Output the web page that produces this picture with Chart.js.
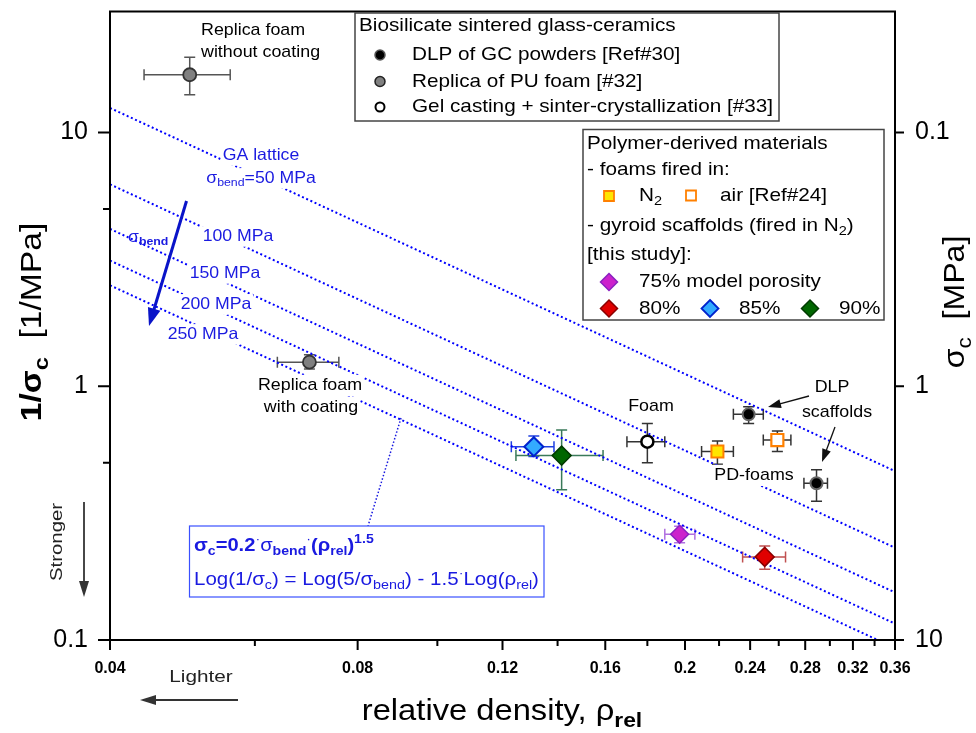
<!DOCTYPE html>
<html>
<head>
<meta charset="utf-8">
<script src="https://cdn.jsdelivr.net/npm/chart.js@4.4.0/dist/chart.umd.min.js"></script>
<style>
  body { margin: 0; background: #fff; }
  #wrap { width: 976px; height: 733px; }
</style>
</head>
<body>
<div id="wrap"><canvas id="chart" width="976" height="733"></canvas></div>
<script>
// x: relative density, y: 1/sigma_c [1/MPa]  (right axis shows sigma_c)
const xMajorTicks = [0.04, 0.08, 0.12, 0.16, 0.2, 0.24, 0.28, 0.32, 0.36];
const xMinorTicks = [0.06, 0.1, 0.14, 0.18, 0.22, 0.26, 0.3, 0.34];
const yMajorTicks = [0.1, 1, 10];
const yMinorTicks = [0.5, 5];
const sigmaTickLabels = ['10', '1', '0.1'];

// Biosilicate sintered glass-ceramics
const dlpRho = [0.239, 0.289];
const dlpInv = [0.775, 0.415];
const dlpRhoErr = [[0.229, 0.249], [0.279, 0.298]];
const dlpInvErr = [[0.714, 0.83], [0.352, 0.469]];

const replicaRho = [0.050, 0.0699];
const replicaInv = [16.9, 1.245];
const replicaRhoErr = [[0.044, 0.056], [0.0639, 0.0759]];
const replicaInvErr = [[14.1, 19.8], [1.17, 1.33]];

const gelRho = [0.18];
const gelInv = [0.605];
const gelRhoErr = [[0.170, 0.189]];
const gelInvErr = [[0.50, 0.714]];

// Polymer-derived foams
const pdN2Rho = [0.219];
const pdN2Inv = [0.553];
const pdN2RhoErr = [[0.2095, 0.229]];
const pdN2InvErr = [[0.493, 0.609]];

const pdAirRho = [0.259];
const pdAirInv = [0.614];
const pdAirRhoErr = [[0.249, 0.269]];
const pdAirInvErr = [[0.553, 0.667]];

// gyroid scaffolds [this study]
const g75Rho = [0.197], g75Inv = [0.261], g75RhoErr = [[0.189, 0.2056]], g75InvErr = [[0.2417, 0.281]];
const g80Rho = [0.25],  g80Inv = [0.2126], g80RhoErr = [[0.235, 0.265]], g80InvErr = [[0.19, 0.2347]];
const g85Rho = [0.131], g85Inv = [0.578], g85RhoErr = [[0.123, 0.1386]], g85InvErr = [[0.529, 0.637]];
const g90Rho = [0.1416], g90Inv = [0.533], g90RhoErr = [[0.1246, 0.159]], g90InvErr = [[0.391, 0.673]];

// GA lattice lines, sigma_bend in MPa
const sigmaBend = [50, 100, 150, 200, 250];
const lineRho = [0.04, 0.36];
const lineInvStart = [12.5, 6.25, 4.17, 3.13, 2.5];
const lineInvEnd = [0.463, 0.231, 0.154, 0.116, 0.093];

const FONT = 'Arial, "Liberation Sans", sans-serif';
const BLUE = '#1a1ae0';
Chart.defaults.font.family = FONT;
Chart.defaults.color = '#000';

function pts(xs, ys, xe, ye) {
  return xs.map((x, i) => ({ x, y: ys[i], xMin: xe[i][0], xMax: xe[i][1], yMin: ye[i][0], yMax: ye[i][1] }));
}

// text with sub/superscripts; sx stretches it horizontally like the original figure
function richText(ctx, parts, x, y, size, opts) {
  const o = Object.assign({ align: 'left', color: '#000', bold: false, bg: null, sx: 1 }, opts);
  const seg = parts.map(([t, s = '']) => {
    const small = s.includes('_') || s.includes('^');
    const fs = small ? size * 0.7 : size;
    const font = (s.includes('b') || o.bold ? 'bold ' : '') + fs + 'px ' + FONT;
    ctx.font = font;
    return { t, font, w: ctx.measureText(t).width, dy: s.includes('_') ? size * 0.3 : s.includes('^') ? -size * 0.38 : 0 };
  });
  const total = seg.reduce((a, s) => a + s.w, 0) * o.sx;
  const cx = o.align === 'center' ? x - total / 2 : o.align === 'right' ? x - total : x;
  if (o.bg) {
    ctx.fillStyle = o.bg;
    ctx.fillRect(cx - 2, y - size * 0.6, total + 4, size * 1.25);
  }
  ctx.save();
  ctx.translate(cx, y);
  ctx.scale(o.sx, 1);
  ctx.fillStyle = o.color;
  ctx.textAlign = 'left';
  ctx.textBaseline = 'middle';
  let ox = 0;
  seg.forEach(s => { ctx.font = s.font; ctx.fillText(s.t, ox, s.dy); ox += s.w; });
  ctx.restore();
  return total;
}

function arrow(ctx, x1, y1, x2, y2, color, lw, hl, hw) {
  const a = Math.atan2(y2 - y1, x2 - x1);
  ctx.save();
  ctx.strokeStyle = color; ctx.fillStyle = color; ctx.lineWidth = lw;
  ctx.beginPath();
  ctx.moveTo(x1, y1);
  ctx.lineTo(x2 - Math.cos(a) * hl * 0.8, y2 - Math.sin(a) * hl * 0.8);
  ctx.stroke();
  ctx.beginPath();
  ctx.moveTo(x2, y2);
  ctx.lineTo(x2 - Math.cos(a) * hl + Math.sin(a) * hw, y2 - Math.sin(a) * hl - Math.cos(a) * hw);
  ctx.lineTo(x2 - Math.cos(a) * hl - Math.sin(a) * hw, y2 - Math.sin(a) * hl + Math.cos(a) * hw);
  ctx.closePath();
  ctx.fill();
  ctx.restore();
}

function marker(ctx, style, x, y, r, fill, stroke, lw) {
  ctx.save();
  ctx.beginPath();
  if (style === 'circle') ctx.arc(x, y, r, 0, Math.PI * 2);
  else if (style === 'rect') ctx.rect(x - r, y - r, 2 * r, 2 * r);
  else { ctx.moveTo(x, y - r); ctx.lineTo(x + r, y); ctx.lineTo(x, y + r); ctx.lineTo(x - r, y); ctx.closePath(); }
  ctx.fillStyle = fill; ctx.fill();
  ctx.lineWidth = lw; ctx.strokeStyle = stroke; ctx.stroke();
  ctx.restore();
}

const errorBars = {
  id: 'errorBars',
  beforeDatasetsDraw(chart) {
    const { ctx, scales: { x, y } } = chart;
    chart.data.datasets.forEach(ds => {
      if (!ds.errColor) return;
      ctx.save();
      ctx.strokeStyle = ds.errColor;
      ctx.lineWidth = 1.5;
      ds.data.forEach(p => {
        const px = x.getPixelForValue(p.x), py = y.getPixelForValue(p.y);
        const x0 = x.getPixelForValue(p.xMin), x1 = x.getPixelForValue(p.xMax);
        const y0 = y.getPixelForValue(p.yMin), y1 = y.getPixelForValue(p.yMax);
        const c = 5.5;
        ctx.beginPath();
        ctx.moveTo(x0, py); ctx.lineTo(x1, py);
        ctx.moveTo(x0, py - c); ctx.lineTo(x0, py + c);
        ctx.moveTo(x1, py - c); ctx.lineTo(x1, py + c);
        ctx.moveTo(px, y0); ctx.lineTo(px, y1);
        ctx.moveTo(px - c, y0); ctx.lineTo(px + c, y0);
        ctx.moveTo(px - c, y1); ctx.lineTo(px + c, y1);
        ctx.stroke();
      });
      ctx.restore();
    });
  }
};

const decorations = {
  id: 'decorations',
  afterDraw(chart) {
    const { ctx, chartArea: ca, scales: { x, y } } = chart;
    ctx.save();

    // frame and tick marks
    ctx.strokeStyle = '#000';
    ctx.lineWidth = 2;
    ctx.strokeRect(ca.left, ca.top, ca.right - ca.left, ca.bottom - ca.top);
    ctx.beginPath();
    xMajorTicks.forEach(v => { const p = x.getPixelForValue(v); ctx.moveTo(p, ca.bottom); ctx.lineTo(p, ca.bottom + 10); });
    xMinorTicks.forEach(v => { const p = x.getPixelForValue(v); ctx.moveTo(p, ca.bottom); ctx.lineTo(p, ca.bottom + 6); });
    yMajorTicks.forEach(v => {
      const p = y.getPixelForValue(v);
      ctx.moveTo(ca.left, p); ctx.lineTo(ca.left - 12, p);
      ctx.moveTo(ca.right, p); ctx.lineTo(ca.right + 9, p);
    });
    yMinorTicks.forEach(v => { const p = y.getPixelForValue(v); ctx.moveTo(ca.left, p); ctx.lineTo(ca.left - 7, p); });
    ctx.stroke();

    // axis titles
    ctx.save();
    ctx.translate(33, 322);
    ctx.rotate(-Math.PI / 2);
    richText(ctx, [['1/σ', 'b'], ['c', 'b_'], ['  [1/MPa]', '']], 0, 0, 30, { align: 'center', sx: 1.12 });
    ctx.restore();
    ctx.save();
    ctx.translate(956, 302);
    ctx.rotate(-Math.PI / 2);
    richText(ctx, [['σ', ''], ['c', '_'], ['  [MPa]', '']], 0, 0, 30, { align: 'center', sx: 1.07 });
    ctx.restore();
    richText(ctx, [['relative density, ρ', ''], ['rel', 'b_']], 502, 712, 30, { align: 'center', sx: 1.09 });

    // Stronger / Lighter
    ctx.save();
    ctx.translate(57, 542);
    ctx.rotate(-Math.PI / 2);
    richText(ctx, [['Stronger']], 0, 0, 17, { align: 'center', color: '#222', sx: 1.2 });
    ctx.restore();
    arrow(ctx, 84, 502, 84, 597, '#333', 1.8, 16, 5);
    richText(ctx, [['Lighter']], 201, 677, 17, { align: 'center', color: '#222', sx: 1.22 });
    arrow(ctx, 238, 700, 140, 700, '#333', 1.8, 16, 5);

    // blue line labels
    const bl = { color: BLUE, bg: '#fff', align: 'center', sx: 1.07 };
    richText(ctx, [['GA lattice']], 261, 155, 16.5, bl);
    richText(ctx, [['σ'], ['bend', '_'], ['=50 MPa']], 261, 178, 16.5, bl);
    richText(ctx, [['100 MPa']], 238, 236, 16.5, bl);
    richText(ctx, [['150 MPa']], 225, 273, 16.5, bl);
    richText(ctx, [['200 MPa']], 216, 304, 16.5, bl);
    richText(ctx, [['250 MPa']], 203, 334, 16.5, bl);
    richText(ctx, [['σ'], ['bend', 'b_']], 128, 237, 16.5, { color: BLUE, sx: 1.07 });
    arrow(ctx, 186.5, 201, 149, 326, '#0a14c8', 3, 18, 6.5);

    // equation box with dotted leader to the 250 MPa line
    ctx.save();
    ctx.strokeStyle = BLUE;
    ctx.lineWidth = 1.5;
    ctx.setLineDash([1.5, 2]);
    ctx.beginPath(); ctx.moveTo(401, 418); ctx.lineTo(368, 526); ctx.stroke();
    ctx.restore();
    ctx.fillStyle = '#fff';
    ctx.fillRect(189.5, 526, 354.5, 71);
    ctx.strokeStyle = '#3a50ff';
    ctx.lineWidth = 1.2;
    ctx.strokeRect(189.5, 526, 354.5, 71);
    richText(ctx, [['σ', 'b'], ['c', 'b_'], ['=0.2', 'b'], ['·', '^'], ['σ'], ['bend', 'b_'], ['·', '^'], ['(ρ', 'b'], ['rel', 'b_'], [')', 'b'], ['1.5', 'b^']], 194, 546, 18, { color: BLUE, sx: 1.12 });
    richText(ctx, [['Log(1/σ'], ['c', '_'], [') = Log(5/σ'], ['bend', '_'], [') - 1.5'], ['·', '^'], ['Log(ρ'], ['rel', '_'], [')']], 194, 580, 18, { color: BLUE, sx: 1.14 });

    // annotations
    const an = { sx: 1.05, bg: '#fff' };
    richText(ctx, [['Replica foam']], 201, 30, 17, an);
    richText(ctx, [['without coating']], 201, 52, 17, an);
    richText(ctx, [['Replica foam']], 310, 385, 17, Object.assign({ align: 'center' }, an));
    richText(ctx, [['with coating']], 311, 407, 17, Object.assign({ align: 'center' }, an));
    richText(ctx, [['Foam']], 651, 406, 17, Object.assign({ align: 'center' }, an));
    richText(ctx, [['DLP']], 832, 387, 17, Object.assign({ align: 'center' }, an));
    richText(ctx, [['scaffolds']], 837, 412, 17, Object.assign({ align: 'center' }, an));
    richText(ctx, [['PD-foams']], 754, 475, 17, Object.assign({ align: 'center' }, an));
    arrow(ctx, 809, 396, 768, 407, '#111', 1.3, 13, 4.5);
    arrow(ctx, 835, 427, 822, 462, '#111', 1.3, 13, 4.5);

    // legend 1
    const lg = { sx: 1.12 };
    ctx.fillStyle = '#fff';
    ctx.fillRect(355, 13, 424, 108);
    ctx.strokeStyle = '#444';
    ctx.lineWidth = 1.5;
    ctx.strokeRect(355, 13, 424, 108);
    richText(ctx, [['Biosilicate sintered glass-ceramics']], 359, 26, 18.5, lg);
    marker(ctx, 'circle', 380, 55, 5, '#000', '#555', 1.5);
    richText(ctx, [['DLP of GC powders [Ref#30]']], 412, 55, 18.5, lg);
    marker(ctx, 'circle', 380, 81.5, 5, '#808080', '#222', 1.5);
    richText(ctx, [['Replica of PU foam [#32]']], 412, 81.5, 18.5, lg);
    marker(ctx, 'circle', 380, 107, 4.5, '#fff', '#000', 2);
    richText(ctx, [['Gel casting + sinter-crystallization [#33]']], 412, 107, 18.5, lg);

    // legend 2
    ctx.fillStyle = '#fff';
    ctx.fillRect(583, 129.5, 301, 190.5);
    ctx.strokeStyle = '#444';
    ctx.strokeRect(583, 129.5, 301, 190.5);
    richText(ctx, [['Polymer-derived materials']], 587, 143.5, 18.5, lg);
    richText(ctx, [['- foams fired in:']], 587, 170, 18.5, lg);
    marker(ctx, 'rect', 609, 196, 5, '#ffe600', '#ff8000', 1.8);
    richText(ctx, [['N'], ['2', '_']], 639, 196, 18.5, lg);
    marker(ctx, 'rect', 691, 195.5, 5, '#fff', '#ff8000', 1.8);
    richText(ctx, [['air [Ref#24]']], 720, 196, 18.5, lg);
    richText(ctx, [['- gyroid scaffolds (fired in N'], ['2', '_'], [')']], 587, 226, 18.5, lg);
    richText(ctx, [['[this study]:']], 587, 255, 18.5, lg);
    marker(ctx, 'diamond', 609, 282, 8.5, '#cc22cc', '#8a20c0', 1.5);
    richText(ctx, [['75% model porosity']], 639, 282, 18.5, lg);
    marker(ctx, 'diamond', 609, 308.5, 8.5, '#e00000', '#8a0000', 1.5);
    richText(ctx, [['80%']], 639, 308.5, 18.5, lg);
    marker(ctx, 'diamond', 710, 308.5, 8.5, '#33aaff', '#0022cc', 1.8);
    richText(ctx, [['85%']], 739, 308.5, 18.5, lg);
    marker(ctx, 'diamond', 810, 308.5, 8.5, '#006600', '#003a00', 1.5);
    richText(ctx, [['90%']], 839, 308.5, 18.5, lg);

    ctx.restore();
  }
};

const lineDatasets = sigmaBend.map((s, i) => ({
  type: 'line',
  label: s + ' MPa',
  data: [{ x: lineRho[0], y: lineInvStart[i] }, { x: lineRho[1], y: lineInvEnd[i] }],
  borderColor: '#0000ff',
  borderWidth: 2,
  borderDash: [2, 2.6],
  pointRadius: 0,
  fill: false,
  order: 5
}));

const pointSets = [
  { label: 'DLP', data: pts(dlpRho, dlpInv, dlpRhoErr, dlpInvErr), pointStyle: 'circle', pointRadius: 6, backgroundColor: '#000', borderColor: '#666', borderWidth: 2, errColor: '#333' },
  { label: 'Replica', data: pts(replicaRho, replicaInv, replicaRhoErr, replicaInvErr), pointStyle: 'circle', pointRadius: 6.5, backgroundColor: '#808080', borderColor: '#333', borderWidth: 1.8, errColor: '#555' },
  { label: 'Gel casting', data: pts(gelRho, gelInv, gelRhoErr, gelInvErr), pointStyle: 'circle', pointRadius: 6, backgroundColor: '#fff', borderColor: '#000', borderWidth: 2.5, errColor: '#333' },
  { label: 'PD N2', data: pts(pdN2Rho, pdN2Inv, pdN2RhoErr, pdN2InvErr), pointStyle: 'rect', pointRadius: 8.5, backgroundColor: '#ffe600', borderColor: '#ff8000', borderWidth: 2, errColor: '#333' },
  { label: 'PD air', data: pts(pdAirRho, pdAirInv, pdAirRhoErr, pdAirInvErr), pointStyle: 'rect', pointRadius: 8.5, backgroundColor: '#fff', borderColor: '#ff8000', borderWidth: 2.2, errColor: '#333' },
  { label: '75%', data: pts(g75Rho, g75Inv, g75RhoErr, g75InvErr), pointStyle: 'rectRot', pointRadius: 9, backgroundColor: '#cc22cc', borderColor: '#8a20c0', borderWidth: 1.5, errColor: '#b070e0' },
  { label: '80%', data: pts(g80Rho, g80Inv, g80RhoErr, g80InvErr), pointStyle: 'rectRot', pointRadius: 9.5, backgroundColor: '#e00000', borderColor: '#8a0000', borderWidth: 1.5, errColor: '#c05050' },
  { label: '85%', data: pts(g85Rho, g85Inv, g85RhoErr, g85InvErr), pointStyle: 'rectRot', pointRadius: 9.5, backgroundColor: '#33aaff', borderColor: '#0022cc', borderWidth: 2, errColor: '#2040e0' },
  { label: '90%', data: pts(g90Rho, g90Inv, g90RhoErr, g90InvErr), pointStyle: 'rectRot', pointRadius: 9.5, backgroundColor: '#006600', borderColor: '#003a00', borderWidth: 1.5, errColor: '#3a7a5a' }
].map(d => Object.assign({ type: 'scatter', order: 1 }, d));

function noPad(s) {
  s.paddingTop = 0; s.paddingBottom = 0; s.paddingLeft = 0; s.paddingRight = 0;
}

new Chart(document.getElementById('chart'), {
  type: 'scatter',
  data: { datasets: [...lineDatasets, ...pointSets] },
  options: {
    responsive: false,
    animation: false,
    events: [],
    layout: { padding: { top: 5, left: 0, right: 0, bottom: 0 } },
    plugins: { legend: { display: false }, tooltip: { enabled: false } },
    scales: {
      x: {
        type: 'logarithmic',
        min: 0.04,
        max: 0.36,
        afterBuildTicks: s => { s.ticks = xMajorTicks.map(v => ({ value: v })); },
        afterFit: s => { s.height = 93; noPad(s); },
        grid: { display: false, drawTicks: false },
        border: { display: false },
        ticks: {
          autoSkip: false, maxRotation: 0, padding: 19,
          font: { size: 16, weight: 'bold' },
          callback: v => String(v)
        }
      },
      y: {
        type: 'logarithmic',
        position: 'left',
        min: 0.1,
        max: 30,
        afterBuildTicks: s => { s.ticks = yMajorTicks.map(v => ({ value: v })); },
        afterFit: s => { s.width = 110; noPad(s); },
        grid: { display: false, drawTicks: false },
        border: { display: false },
        ticks: { padding: 22, font: { size: 25 }, callback: v => String(v) }
      },
      y2: {
        type: 'logarithmic',
        position: 'right',
        min: 0.1,
        max: 30,
        afterBuildTicks: s => { s.ticks = yMajorTicks.map(v => ({ value: v })); },
        afterFit: s => { s.width = 81; noPad(s); },
        grid: { display: false, drawTicks: false },
        border: { display: false },
        ticks: { padding: 20, font: { size: 25 }, callback: v => sigmaTickLabels[yMajorTicks.indexOf(v)] }
      }
    }
  },
  plugins: [errorBars, decorations]
});
</script>
</body>
</html>
